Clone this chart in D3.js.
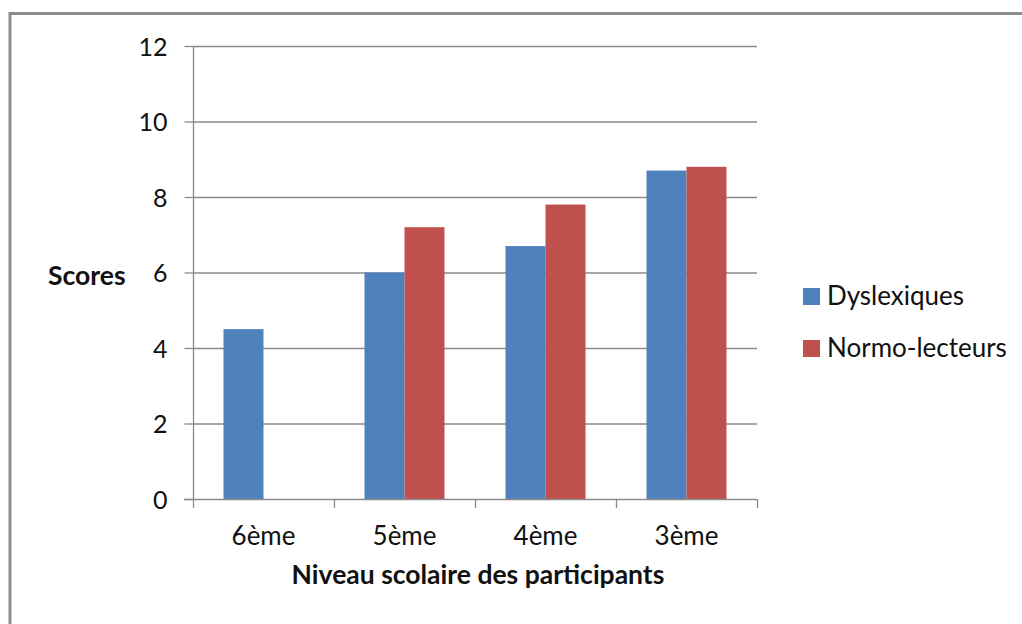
<!DOCTYPE html>
<html>
<head>
<meta charset="utf-8">
<script src="https://cdn.jsdelivr.net/npm/d3@7"></script>
<style>
  html, body { margin: 0; padding: 0; background: #fff; }
  svg { display: block; }
  text { font-family: Lato, "Open Sans", sans-serif; fill: #111; }
</style>
</head>
<body>
<svg id="chart" width="1022" height="624"></svg>
<script>
// Niveaux scolaires et scores moyens par groupe
const categories = ["6ème", "5ème", "4ème", "3ème"];
const seriesNames = ["Dyslexiques", "Normo-lecteurs"];
const dyslexiques = [4.5, 6.0, 6.7, 8.7];
const normoLecteurs = [null, 7.2, 7.8, 8.8];
const yTicks = [0, 2, 4, 6, 8, 10, 12];
const colors = ["#4F81BD", "#C0504D"];

const svg = d3.select("#chart");

// Cadre de la zone de graphique
svg.append("rect")
  .attr("x", 10).attr("y", 13.5)
  .attr("width", 1030).attr("height", 640)
  .attr("fill", "#fff")
  .attr("stroke", "#8c8c8c")
  .attr("stroke-width", 3);

const plot = { left: 193, right: 757, top: 46, bottom: 499 };

const x = d3.scaleBand()
  .domain(categories)
  .range([plot.left, plot.right]);

const xInner = d3.scaleBand()
  .domain(seriesNames)
  .range([0, x.bandwidth()])
  .paddingOuter(0.7625);

const y = d3.scaleLinear()
  .domain([0, 12])
  .range([plot.bottom, plot.top]);

// Quadrillage horizontal
svg.append("g")
  .selectAll("line")
  .data(yTicks.filter(d => d > 0))
  .join("line")
  .attr("x1", plot.left).attr("x2", plot.right)
  .attr("y1", d => y(d) + 0.5).attr("y2", d => y(d) + 0.5)
  .attr("stroke", "#8a8a8a")
  .attr("stroke-width", 1.3);

// Barres
const rows = categories.map((c, i) => ({ cat: c, values: [dyslexiques[i], normoLecteurs[i]] }));
svg.append("g")
  .selectAll("g")
  .data(rows)
  .join("g")
  .attr("transform", d => `translate(${x(d.cat)},0)`)
  .selectAll("rect")
  .data(d => d.values.map((v, j) => ({ name: seriesNames[j], v, j })).filter(d => d.v != null))
  .join("rect")
  .attr("x", d => xInner(d.name))
  .attr("width", xInner.bandwidth())
  .attr("y", d => y(d.v))
  .attr("height", d => y(0) - y(d.v))
  .attr("fill", d => colors[d.j]);

// Axe vertical
const yAxis = svg.append("g")
  .attr("transform", `translate(${plot.left + 0.5},0)`)
  .call(d3.axisLeft(y).tickValues(yTicks).tickSize(9).tickPadding(17).tickFormat(d3.format("d")));
yAxis.selectAll("path, line").attr("stroke", "#8a8a8a").attr("stroke-width", 1.3);
yAxis.select(".domain").attr("d", `M0,${plot.top}V${plot.bottom}`);
yAxis.selectAll("text")
  .attr("font-size", 25)
  .attr("font-family", "Lato, sans-serif")
  .attr("fill", "#111")
  .attr("dy", "0.36em");

// Axe horizontal
const xAxis = svg.append("g")
  .attr("transform", `translate(0,${plot.bottom + 0.5})`)
  .call(d3.axisBottom(x).tickSize(0).tickPadding(27));
xAxis.select(".domain").attr("d", `M${plot.left - 9},0H${plot.right}`)
  .attr("stroke", "#8a8a8a").attr("stroke-width", 1.3);
xAxis.selectAll("text")
  .attr("font-size", 26)
  .attr("font-family", "Lato, sans-serif")
  .attr("fill", "#111")
  .attr("dy", "0.72em");

// Graduations entre catégories
svg.append("g")
  .selectAll("line")
  .data(categories.map(c => x(c)).concat([plot.right]))
  .join("line")
  .attr("x1", d => d + 0.5).attr("x2", d => d + 0.5)
  .attr("y1", plot.bottom).attr("y2", plot.bottom + 9)
  .attr("stroke", "#8a8a8a")
  .attr("stroke-width", 1.3);

// Titres des axes
svg.append("text")
  .attr("x", 48).attr("y", 285)
  .attr("font-size", 26.5)
  .attr("font-weight", "bold")
  .text("Scores");

svg.append("text")
  .attr("x", 478).attr("y", 584)
  .attr("text-anchor", "middle")
  .attr("font-size", 26.5)
  .attr("font-weight", "bold")
  .text("Niveau scolaire des participants");

// Légende
const legend = svg.append("g")
  .selectAll("g")
  .data(seriesNames)
  .join("g")
  .attr("transform", (d, i) => `translate(803,${288 + i * 52})`);
legend.append("rect")
  .attr("width", 17).attr("height", 17)
  .attr("fill", (d, i) => colors[i]);
legend.append("text")
  .attr("x", 24).attr("y", 17)
  .attr("font-size", 26)
  .text(d => d);
</script>
</body>
</html>
